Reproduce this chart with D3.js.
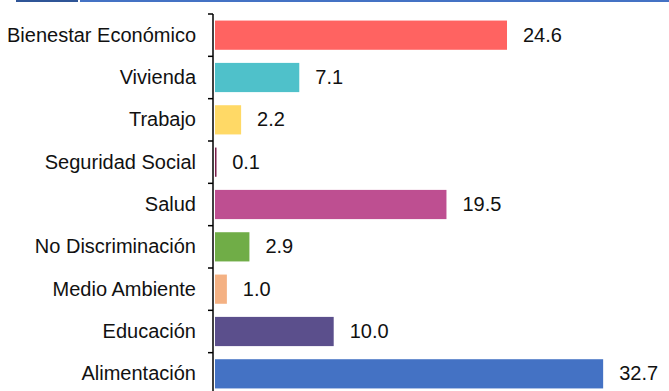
<!DOCTYPE html>
<html>
<head>
<meta charset="utf-8">
<script src="https://cdn.jsdelivr.net/npm/d3@7"></script>
<style>
  body { margin: 0; background: #fff; }
  svg { display: block; font-family: "Liberation Sans", Arial, sans-serif; }
</style>
</head>
<body>
<div id="chart"></div>
<script>
const categories = ["Bienestar Económico", "Vivienda", "Trabajo", "Seguridad Social", "Salud",
    "No Discriminación", "Medio Ambiente", "Educación", "Alimentación"];
const values = [24.6, 7.1, 2.2, 0.1, 19.5, 2.9, 1.0, 10.0, 32.7];
const colors = ["#FF6361", "#4FC1CA", "#FFD966", "#7B1F4B", "#BE4F91",
    "#70AD47", "#F4B183", "#5B4F8C", "#4472C4"];

const width = 669, height = 391;
const margin = { top: 14, left: 213 };

const svg = d3.select("#chart")
    .append("svg")
    .attr("width", width)
    .attr("height", height);

// header strip
svg.append("rect").attr("x", 16).attr("y", 0).attr("width", 62).attr("height", 2).attr("fill", "#2F5597");
svg.append("rect").attr("x", 80).attr("y", 0).attr("width", width - 80).attr("height", 2).attr("fill", "#4472C4");

const g = svg.append("g")
    .attr("transform", `translate(${margin.left},${margin.top})`);

const y = d3.scaleBand()
    .domain(categories)
    .range([0, 381])
    .paddingInner(0.31)
    .paddingOuter(0.155);

const x = d3.scaleLinear()
    .domain([0, 10])
    .range([0, 118.7]);

// bars
g.selectAll("rect.bar")
    .data(categories)
    .enter()
    .append("rect")
    .attr("class", "bar")
    .attr("x", 2)
    .attr("y", d => y(d))
    .attr("width", (d, i) => Math.max(x(values[i]), 1.5))
    .attr("height", y.bandwidth())
    .attr("fill", (d, i) => colors[i]);

// value labels
g.selectAll("text.val")
    .data(categories)
    .enter()
    .append("text")
    .attr("class", "val")
    .attr("x", (d, i) => 2 + x(values[i]) + 16)
    .attr("y", d => y(d) + y.bandwidth() / 2)
    .attr("dy", "0.33em")
    .style("font-size", "20px")
    .attr("fill", "#111")
    .text((d, i) => values[i].toFixed(1));

// axis line + ticks at band boundaries
g.append("line")
    .attr("x1", 0).attr("x2", 0)
    .attr("y1", 0).attr("y2", 381)
    .attr("stroke", "#000").attr("stroke-width", 1.5);

const step = y.step();
g.selectAll("line.tick")
    .data(d3.range(categories.length + 1))
    .enter()
    .append("line")
    .attr("class", "tick")
    .attr("x1", -5).attr("x2", 0)
    .attr("y1", i => i * step)
    .attr("y2", i => i * step)
    .attr("stroke", "#000").attr("stroke-width", 1.5);

// category labels
g.selectAll("text.cat")
    .data(categories)
    .enter()
    .append("text")
    .attr("class", "cat")
    .attr("x", -17)
    .attr("y", d => y(d) + y.bandwidth() / 2)
    .attr("dy", "0.33em")
    .attr("text-anchor", "end")
    .style("font-size", "20px")
    .attr("fill", "#111")
    .text(d => d);
</script>
</body>
</html>
